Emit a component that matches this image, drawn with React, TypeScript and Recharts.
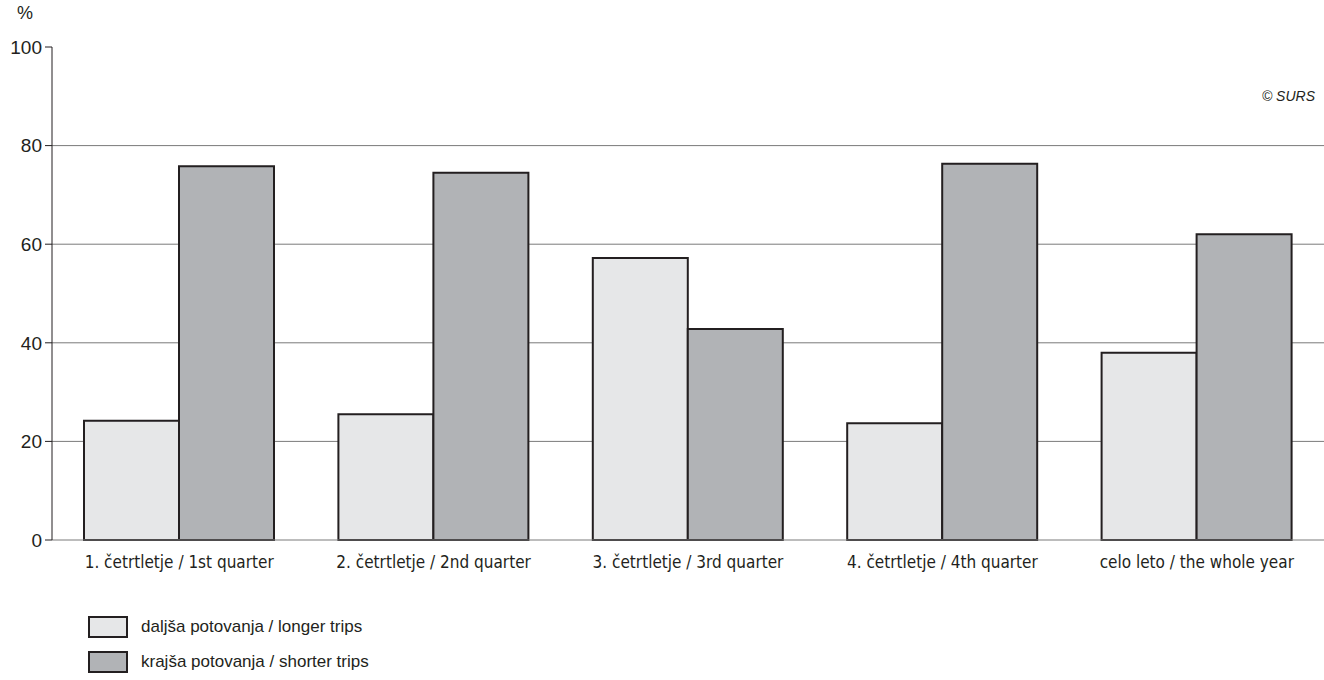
import React from 'react';
import { BarChart, Bar, XAxis, YAxis, CartesianGrid } from 'recharts';

const categories = [
  '1. četrtletje / 1st quarter',
  '2. četrtletje / 2nd quarter',
  '3. četrtletje / 3rd quarter',
  '4. četrtletje / 4th quarter',
  'celo leto / the whole year',
];
const longerTrips = [24.2, 25.5, 57.2, 23.7, 38.0];
const shorterTrips = [75.8, 74.5, 42.8, 76.3, 62.0];
const yTicks = [0, 20, 40, 60, 80, 100];
const gridValues = [20, 40, 60, 80];

const data = categories.map((name, i) => ({ name, longer: longerTrips[i], shorter: shorterTrips[i] }));

const LIGHT = '#e6e7e8';
const DARK = '#b1b3b6';
const INK = '#231f20';
const condensed = 'Liberation Sans Narrow, DejaVu Sans Condensed, sans-serif';
const sans = 'Arial, Liberation Sans, Helvetica, sans-serif';

export default function App() {
  return (
    <div style={{ position: 'absolute', left: 0, top: 0, width: 1324, height: 680, background: '#fff', fontFamily: sans }}>
      <BarChart
        width={1324}
        height={680}
        data={data}
        margin={{ top: 47, right: 0, left: 0, bottom: 110 }}
        barCategoryGap={32}
        barGap={0}
      >
        <CartesianGrid vertical={false} horizontalValues={gridValues} stroke="#7a7a7a" strokeWidth={1} />
        <XAxis
          dataKey="name"
          height={30}
          axisLine={{ stroke: '#7a7a7a', strokeWidth: 1 }}
          tickLine={false}
          tick={{ fontSize: 17, fill: INK, fontFamily: condensed }}
          tickMargin={10}
          interval={0}
        />
        <YAxis
          domain={[0, 100]}
          ticks={yTicks}
          width={52}
          axisLine={{ stroke: INK, strokeWidth: 1 }}
          tickLine={{ stroke: INK, strokeWidth: 1 }}
          tickSize={7}
          tick={{ fontSize: 19, fill: INK, fontFamily: sans }}
          tickMargin={3}
        />
        <Bar dataKey="longer" fill={LIGHT} stroke={INK} strokeWidth={2} isAnimationActive={false} />
        <Bar dataKey="shorter" fill={DARK} stroke={INK} strokeWidth={2} isAnimationActive={false} />
      </BarChart>

      <div style={{ position: 'absolute', left: 17, top: 3, fontSize: 18, color: INK }}>%</div>
      <div style={{ position: 'absolute', right: 9, top: 88, fontSize: 14, fontStyle: 'italic', color: INK }}>© SURS</div>

      <div style={{ position: 'absolute', left: 88, top: 609, fontSize: 17, color: INK }}>
        {[
          { label: 'daljša potovanja / longer trips', fill: LIGHT },
          { label: 'krajša potovanja / shorter trips', fill: DARK },
        ].map((item) => (
          <div key={item.label} style={{ display: 'flex', alignItems: 'center', height: 35 }}>
            <div style={{ width: 36, height: 18, background: item.fill, border: `2px solid ${INK}`, marginRight: 13 }} />
            <span>{item.label}</span>
          </div>
        ))}
      </div>
    </div>
  );
}
